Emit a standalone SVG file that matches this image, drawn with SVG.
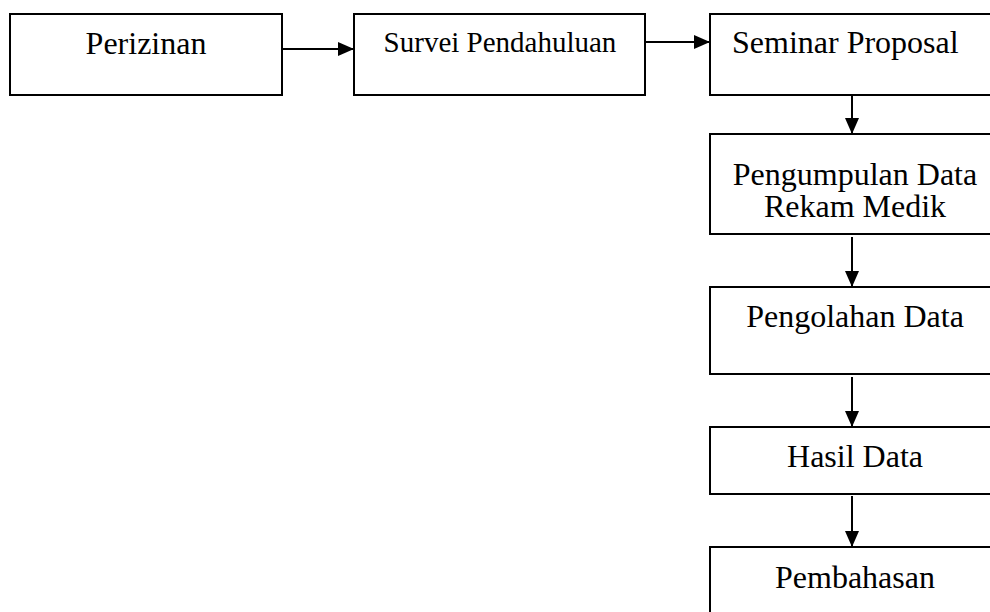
<svg xmlns="http://www.w3.org/2000/svg" width="990" height="612" viewBox="0 0 990 612">
<defs>
<style>
.box{fill:#fff;stroke:#000;stroke-width:2}
.t{font-family:"Liberation Serif","Times New Roman",serif;font-size:32px;fill:#000;text-anchor:middle}
.conn{stroke:#000;stroke-width:2;fill:none}
</style>
<marker id="ah" markerUnits="userSpaceOnUse" markerWidth="16" markerHeight="16" viewBox="0 0 16 16" refX="16" refY="8" orient="auto">
<path d="M0,1 L16,8 L0,15 Z" fill="#000"/>
</marker>
</defs>
<rect width="990" height="612" fill="#fff"/>
<g id="n1"><rect class="box" x="10" y="14" width="272" height="81"/><text class="t" x="146" y="54">Perizinan</text></g>
<g id="n2"><rect class="box" x="354" y="14" width="291" height="81"/><text class="t" x="500" y="52" style="font-size:29px">Survei Pendahuluan</text></g>
<g id="n3"><rect class="box" x="710" y="14" width="290" height="81"/><text class="t" x="732" y="53" style="text-anchor:start">Seminar Proposal</text></g>
<g id="n4"><rect class="box" x="710" y="134" width="290" height="100"/><text class="t" x="855" y="185">Pengumpulan Data</text><text class="t" x="855" y="217">Rekam Medik</text></g>
<g id="n5"><rect class="box" x="710" y="287" width="290" height="87"/><text class="t" x="855" y="327">Pengolahan Data</text></g>
<g id="n6"><rect class="box" x="710" y="427" width="290" height="67"/><text class="t" x="855" y="467">Hasil Data</text></g>
<g id="n7"><rect class="box" x="710" y="547" width="290" height="80"/><text class="t" x="855" y="588">Pembahasan</text></g>
<g id="connectors">
<line class="conn" x1="282" y1="49" x2="354" y2="49" marker-end="url(#ah)"/>
<line class="conn" x1="645" y1="42" x2="710" y2="42" marker-end="url(#ah)"/>
<line class="conn" x1="852" y1="95" x2="852" y2="134" marker-end="url(#ah)"/>
<line class="conn" x1="852" y1="237" x2="852" y2="287" marker-end="url(#ah)"/>
<line class="conn" x1="852" y1="377" x2="852" y2="427" marker-end="url(#ah)"/>
<line class="conn" x1="852" y1="496" x2="852" y2="547" marker-end="url(#ah)"/>
</g>
</svg>
